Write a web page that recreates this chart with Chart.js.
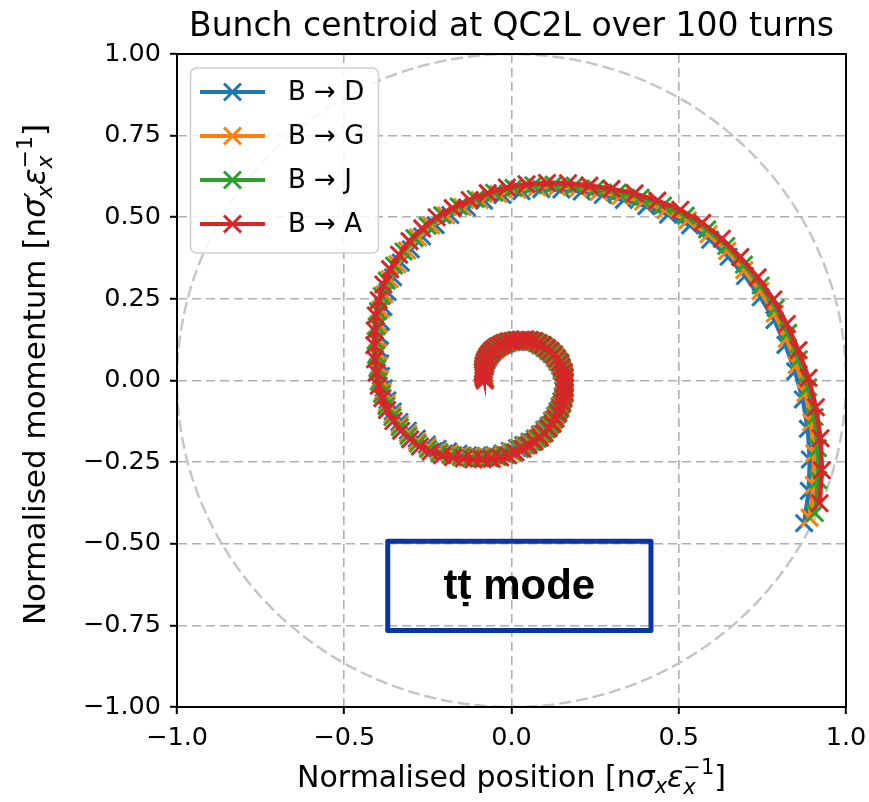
<!DOCTYPE html>
<html>
<head>
<meta charset="utf-8">
<script src="https://cdn.jsdelivr.net/npm/chart.js@4.4.1/dist/chart.umd.min.js"></script>
<style>
  html, body { margin: 0; padding: 0; background: #fff; }
  #wrap { width: 869px; height: 802px; }
</style>
</head>
<body>
<div id="wrap"><canvas id="centroidChart" width="869" height="802"></canvas></div>
<script>
// centroid of the bunch, one point per turn
var seriesLabels = ['B \u2192 D', 'B \u2192 G', 'B \u2192 J', 'B \u2192 A'];
var seriesColors = ['#1f77b4', '#ff7f0e', '#2ca02c', '#d62728'];
var xTicks = [-1, -0.5, 0, 0.5, 1];
var yTicks = [-1, -0.75, -0.5, -0.25, 0, 0.25, 0.5, 0.75, 1];

var xBD = [0.875,0.889,0.892,0.886,0.871,0.848,0.819,0.786,0.745,0.698,
  0.649,0.594,0.534,0.468,0.403,0.336,0.273,0.210,0.149,0.089,
  0.030,-0.027,-0.082,-0.133,-0.183,-0.227,-0.267,-0.301,-0.331,-0.354,
  -0.371,-0.383,-0.390,-0.394,-0.395,-0.393,-0.390,-0.382,-0.371,-0.355,
  -0.335,-0.310,-0.283,-0.253,-0.221,-0.189,-0.158,-0.130,-0.102,-0.076,
  -0.051,-0.027,-0.005,0.017,0.035,0.054,0.070,0.085,0.098,0.111,
  0.121,0.130,0.137,0.144,0.149,0.153,0.155,0.156,0.157,0.155,
  0.150,0.146,0.138,0.130,0.120,0.110,0.099,0.087,0.075,0.062,
  0.049,0.036,0.023,0.011,-0.001,-0.013,-0.023,-0.034,-0.043,-0.051,
  -0.059,-0.065,-0.071,-0.075,-0.079,-0.081,-0.082,-0.082,-0.081,-0.078];
var yBD = [-0.437,-0.338,-0.242,-0.148,-0.058,0.028,0.109,0.185,0.255,0.320,
  0.379,0.431,0.475,0.508,0.534,0.553,0.568,0.579,0.585,0.586,
  0.580,0.568,0.551,0.530,0.507,0.476,0.441,0.402,0.361,0.316,
  0.271,0.225,0.180,0.136,0.094,0.053,0.014,-0.024,-0.061,-0.095,
  -0.127,-0.154,-0.178,-0.196,-0.209,-0.217,-0.224,-0.229,-0.230,-0.231,
  -0.229,-0.224,-0.216,-0.207,-0.198,-0.188,-0.178,-0.165,-0.151,-0.138,
  -0.123,-0.108,-0.094,-0.079,-0.063,-0.048,-0.032,-0.017,-0.001,0.015,
  0.029,0.044,0.057,0.069,0.081,0.090,0.100,0.107,0.114,0.118,
  0.121,0.121,0.121,0.118,0.117,0.114,0.109,0.105,0.099,0.093,
  0.085,0.077,0.068,0.060,0.050,0.041,0.032,0.023,0.014,0.006];

var xBG = [0.891,0.904,0.905,0.896,0.879,0.853,0.823,0.787,0.744,0.696,
  0.645,0.589,0.527,0.460,0.394,0.326,0.261,0.199,0.136,0.076,
  0.017,-0.040,-0.095,-0.147,-0.196,-0.240,-0.279,-0.312,-0.341,-0.364,
  -0.380,-0.391,-0.397,-0.400,-0.400,-0.397,-0.393,-0.385,-0.373,-0.356,
  -0.334,-0.309,-0.282,-0.251,-0.218,-0.185,-0.154,-0.125,-0.098,-0.071,
  -0.046,-0.022,0.000,0.022,0.040,0.059,0.075,0.090,0.102,0.115,
  0.125,0.133,0.140,0.147,0.152,0.155,0.157,0.158,0.158,0.156,
  0.150,0.146,0.138,0.130,0.119,0.109,0.098,0.085,0.073,0.060,
  0.046,0.033,0.020,0.008,-0.004,-0.016,-0.026,-0.036,-0.045,-0.054,
  -0.061,-0.067,-0.073,-0.077,-0.081,-0.082,-0.084,-0.083,-0.082,-0.079];
var yBG = [-0.420,-0.320,-0.223,-0.128,-0.038,0.047,0.128,0.205,0.274,0.338,
  0.397,0.448,0.491,0.522,0.548,0.565,0.578,0.589,0.593,0.592,
  0.585,0.571,0.553,0.531,0.506,0.475,0.438,0.398,0.356,0.311,
  0.264,0.218,0.173,0.128,0.086,0.045,0.005,-0.033,-0.070,-0.104,
  -0.135,-0.162,-0.186,-0.203,-0.216,-0.223,-0.229,-0.233,-0.234,-0.234,
  -0.232,-0.226,-0.218,-0.208,-0.199,-0.189,-0.178,-0.164,-0.150,-0.137,
  -0.122,-0.106,-0.092,-0.076,-0.061,-0.045,-0.029,-0.013,0.003,0.019,
  0.033,0.048,0.060,0.073,0.084,0.093,0.103,0.110,0.116,0.120,
  0.123,0.122,0.122,0.120,0.118,0.115,0.110,0.105,0.099,0.092,
  0.085,0.076,0.067,0.059,0.049,0.039,0.030,0.021,0.012,0.004];

var xBJ = [0.907,0.917,0.916,0.906,0.887,0.859,0.827,0.790,0.745,0.695,
  0.642,0.585,0.521,0.453,0.386,0.318,0.252,0.189,0.126,0.065,
  0.006,-0.052,-0.107,-0.158,-0.207,-0.251,-0.290,-0.323,-0.351,-0.373,
  -0.388,-0.399,-0.403,-0.406,-0.405,-0.401,-0.397,-0.387,-0.374,-0.356,
  -0.334,-0.308,-0.280,-0.249,-0.215,-0.182,-0.151,-0.122,-0.094,-0.067,
  -0.042,-0.018,0.005,0.026,0.044,0.063,0.079,0.094,0.106,0.118,
  0.128,0.136,0.143,0.149,0.154,0.158,0.159,0.159,0.159,0.157,
  0.151,0.147,0.138,0.129,0.119,0.108,0.096,0.084,0.071,0.058,
  0.044,0.031,0.018,0.006,-0.006,-0.018,-0.028,-0.039,-0.048,-0.056,
  -0.063,-0.070,-0.075,-0.079,-0.082,-0.084,-0.085,-0.084,-0.083,-0.080];
var yBJ = [-0.406,-0.305,-0.207,-0.112,-0.021,0.065,0.146,0.222,0.291,0.355,
  0.412,0.463,0.505,0.536,0.560,0.576,0.588,0.597,0.600,0.598,
  0.590,0.575,0.556,0.533,0.506,0.474,0.436,0.395,0.352,0.306,
  0.259,0.212,0.166,0.121,0.078,0.037,-0.003,-0.041,-0.078,-0.112,
  -0.143,-0.170,-0.193,-0.210,-0.222,-0.229,-0.234,-0.238,-0.238,-0.238,
  -0.234,-0.228,-0.220,-0.210,-0.199,-0.189,-0.178,-0.164,-0.149,-0.136,
  -0.120,-0.104,-0.090,-0.074,-0.058,-0.042,-0.026,-0.010,0.006,0.022,
  0.036,0.051,0.063,0.076,0.087,0.096,0.106,0.112,0.119,0.122,
  0.124,0.124,0.123,0.121,0.119,0.115,0.110,0.105,0.099,0.092,
  0.084,0.075,0.066,0.058,0.048,0.038,0.029,0.020,0.011,0.003];

var xBA = [0.921,0.928,0.924,0.910,0.888,0.858,0.823,0.783,0.736,0.684,
  0.629,0.570,0.505,0.436,0.368,0.299,0.233,0.169,0.106,0.045,
  -0.014,-0.071,-0.125,-0.176,-0.224,-0.267,-0.305,-0.336,-0.363,-0.383,
  -0.397,-0.406,-0.409,-0.410,-0.408,-0.403,-0.397,-0.386,-0.372,-0.353,
  -0.330,-0.303,-0.274,-0.242,-0.208,-0.175,-0.143,-0.114,-0.086,-0.059,
  -0.034,-0.010,0.012,0.033,0.051,0.069,0.085,0.099,0.111,0.123,
  0.132,0.140,0.146,0.152,0.156,0.159,0.160,0.160,0.159,0.156,
  0.150,0.145,0.136,0.127,0.116,0.105,0.093,0.080,0.067,0.054,
  0.040,0.027,0.014,0.002,-0.010,-0.022,-0.032,-0.042,-0.051,-0.059,
  -0.066,-0.072,-0.077,-0.081,-0.084,-0.085,-0.086,-0.085,-0.083,-0.080];
var yBA = [-0.376,-0.275,-0.177,-0.082,0.008,0.093,0.173,0.248,0.316,0.378,
  0.434,0.483,0.523,0.551,0.573,0.587,0.597,0.604,0.605,0.601,
  0.591,0.574,0.553,0.528,0.500,0.466,0.427,0.385,0.341,0.294,
  0.246,0.199,0.153,0.108,0.065,0.024,-0.016,-0.054,-0.090,-0.124,
  -0.154,-0.180,-0.202,-0.218,-0.229,-0.235,-0.239,-0.242,-0.241,-0.240,
  -0.236,-0.229,-0.220,-0.209,-0.198,-0.187,-0.175,-0.161,-0.146,-0.132,
  -0.116,-0.100,-0.085,-0.069,-0.053,-0.037,-0.021,-0.005,0.011,0.027,
  0.041,0.056,0.068,0.080,0.091,0.100,0.109,0.115,0.121,0.124,
  0.126,0.125,0.124,0.121,0.119,0.115,0.109,0.104,0.097,0.090,
  0.082,0.073,0.064,0.055,0.045,0.035,0.026,0.017,0.008,0.000];

var FONT = "'DejaVu Sans', 'Liberation Sans', sans-serif";

function fmt(v, d) {
    return (v < 0 ? '\u2212' : '') + Math.abs(v).toFixed(d);
}

function toPoints(xs, ys) {
    return xs.map(function (x, i) { return { x: x, y: ys[i] }; });
}

function makeSet(i, xs, ys, order) {
    return {
        label: seriesLabels[i],
        data: toPoints(xs, ys),
        showLine: true,
        borderColor: seriesColors[i],
        backgroundColor: seriesColors[i],
        borderWidth: 4.5,
        pointStyle: 'crossRot',
        pointRadius: 12,
        pointBorderWidth: 3,
        pointBorderColor: seriesColors[i],
        tension: 0,
        order: order
    };
}

// small helper for the mathtext-ish axis labels
function richWidth(ctx, parts) {
    var w = 0, kept = 0;
    parts.forEach(function (p) {
        ctx.font = (p.it ? 'italic ' : '') + p.sz + 'px ' + FONT;
        var pw = ctx.measureText(p.t).width;
        if (p.keep) { kept = pw; return; }
        w += Math.max(pw, kept);
        kept = 0;
    });
    return w;
}

function drawRich(ctx, parts, x, y) {
    var cx = x, kept = 0;
    ctx.textBaseline = 'alphabetic';
    ctx.textAlign = 'left';
    parts.forEach(function (p) {
        ctx.font = (p.it ? 'italic ' : '') + p.sz + 'px ' + FONT;
        ctx.fillText(p.t, cx, y + (p.dy || 0));
        var pw = ctx.measureText(p.t).width;
        if (p.keep) { kept = pw; return; }
        cx += Math.max(pw, kept);
        kept = 0;
    });
}

var xLabelParts = [
    { t: 'Normalised position [n', sz: 30 },
    { t: '\u03c3', sz: 30, it: 1 },
    { t: 'x', sz: 21, it: 1, dy: 6 },
    { t: '\u03b5', sz: 30, it: 1 },
    { t: 'x', sz: 21, it: 1, dy: 7, keep: 1 },
    { t: '\u22121', sz: 21, dy: -13 },
    { t: ']', sz: 30 }
];
var yLabelParts = [
    { t: 'Normalised momentum [n', sz: 31 },
    { t: '\u03c3', sz: 31, it: 1 },
    { t: 'x', sz: 22, it: 1, dy: 7, keep: 1 },
    { t: '\u2032', sz: 28, dy: 0 },
    { t: '\u03b5', sz: 31, it: 1 },
    { t: 'x', sz: 22, it: 1, dy: 7, keep: 1 },
    { t: '\u22121', sz: 22, dy: -13 },
    { t: ']', sz: 31 }
];

var decor = {
    id: 'decor',
    beforeDraw: function (chart) {
        var ctx = chart.ctx;
        ctx.save();
        ctx.fillStyle = '#fff';
        ctx.fillRect(0, 0, chart.width, chart.height);
        ctx.restore();
    },
    beforeDatasetsDraw: function (chart) {
        // dashed unit circle
        var ctx = chart.ctx, a = chart.chartArea;
        var sx = chart.scales.x, sy = chart.scales.y;
        var cx = sx.getPixelForValue(0), cy = sy.getPixelForValue(0);
        var rx = sx.getPixelForValue(1) - cx, ry = cy - sy.getPixelForValue(1);
        ctx.save();
        ctx.beginPath();
        ctx.rect(a.left, a.top, a.right - a.left, a.bottom - a.top);
        ctx.clip();
        ctx.beginPath();
        ctx.ellipse(cx, cy, rx, ry, 0, 0, Math.PI * 2);
        ctx.setLineDash([12, 5]);
        ctx.strokeStyle = '#c4c4c4';
        ctx.lineWidth = 2.4;
        ctx.stroke();
        ctx.restore();
    },
    afterDraw: function (chart) {
        var ctx = chart.ctx, a = chart.chartArea;
        var sx = chart.scales.x, sy = chart.scales.y;
        ctx.save();

        // frame
        ctx.strokeStyle = '#000';
        ctx.lineWidth = 2;
        ctx.strokeRect(a.left, a.top, a.right - a.left, a.bottom - a.top);

        // title
        ctx.fillStyle = '#000';
        ctx.font = '33px ' + FONT;
        ctx.textAlign = 'center';
        ctx.textBaseline = 'alphabetic';
        ctx.fillText('Bunch centroid at QC2L over 100 turns', (a.left + a.right) / 2, 36);

        // axis labels
        var mid = (a.left + a.right) / 2;
        var w = richWidth(ctx, xLabelParts);
        drawRich(ctx, xLabelParts, mid - w / 2, 787);
        ctx.save();
        ctx.translate(45, (a.top + a.bottom) / 2 - 6);
        ctx.rotate(-Math.PI / 2);
        w = richWidth(ctx, yLabelParts);
        drawRich(ctx, yLabelParts, -w / 2, 0);
        ctx.restore();

        // legend
        var lx = 190.5, ly = 68, lw = 188, lh = 185;
        ctx.beginPath();
        ctx.roundRect(lx, ly, lw, lh, 6);
        ctx.fillStyle = 'rgba(255,255,255,0.85)';
        ctx.fill();
        ctx.strokeStyle = '#d0d0d0';
        ctx.lineWidth = 1.6;
        ctx.stroke();
        seriesLabels.forEach(function (lab, i) {
            var ry = 92 + i * 44;
            ctx.strokeStyle = seriesColors[i];
            ctx.lineWidth = 4;
            ctx.beginPath();
            ctx.moveTo(200, ry);
            ctx.lineTo(265, ry);
            ctx.stroke();
            ctx.lineWidth = 3;
            ctx.beginPath();
            ctx.moveTo(232.5 - 8.5, ry - 8.5);
            ctx.lineTo(232.5 + 8.5, ry + 8.5);
            ctx.moveTo(232.5 - 8.5, ry + 8.5);
            ctx.lineTo(232.5 + 8.5, ry - 8.5);
            ctx.stroke();
            ctx.fillStyle = '#000';
            ctx.font = '26px ' + FONT;
            ctx.textAlign = 'left';
            ctx.textBaseline = 'middle';
            ctx.fillText(lab, 288, ry + 1);
        });

        // tt mode box
        var bx0 = sx.getPixelForValue(-0.37), bx1 = sx.getPixelForValue(0.417);
        var by0 = sy.getPixelForValue(-0.492), by1 = sy.getPixelForValue(-0.766);
        ctx.strokeStyle = '#0b35a3';
        ctx.lineWidth = 5;
        ctx.lineJoin = 'round';
        ctx.strokeRect(bx0, by0, bx1 - bx0, by1 - by0);
        ctx.fillStyle = '#000';
        ctx.font = "bold 42px 'Liberation Sans', Arial, 'DejaVu Sans', sans-serif";
        ctx.textAlign = 'center';
        ctx.textBaseline = 'alphabetic';
        ctx.fillText('t\u1e6d mode', (bx0 + bx1) / 2, by0 + 58);

        ctx.restore();
    }
};

var datasets = [
    makeSet(0, xBD, yBD, 3),
    makeSet(1, xBG, yBG, 2),
    makeSet(2, xBJ, yBJ, 1),
    makeSet(3, xBA, yBA, 0)
];

function axisOptions(ticksArr, digits, fit) {
    return {
        type: 'linear',
        min: -1,
        max: 1,
        afterBuildTicks: function (scale) {
            scale.ticks = ticksArr.map(function (v) { return { value: v }; });
        },
        afterFit: fit,
        ticks: {
            autoSkip: false,
            maxRotation: 0,
            color: '#000',
            padding: 9,
            font: { family: FONT, size: 25.5 },
            callback: function (v) { return fmt(v, digits); }
        },
        grid: {
            color: '#b0b0b0',
            lineWidth: 1.6,
            tickColor: '#000',
            tickLength: 7,
            tickWidth: 2
        },
        border: { dash: [9, 5], color: '#000', width: 2 }
    };
}

new Chart(document.getElementById('centroidChart').getContext('2d'), {
    type: 'scatter',
    data: { datasets: datasets },
    options: {
        responsive: false,
        animation: false,
        events: [],
        devicePixelRatio: 1,
        layout: { padding: { top: 54, right: 23, left: 0, bottom: 0 } },
        plugins: { legend: { display: false }, title: { display: false }, tooltip: { enabled: false } },
        scales: {
            x: axisOptions(xTicks, 1, function (s) {
                s.height = 95;
                s.paddingLeft = 0;
                s.paddingRight = 0;
            }),
            y: axisOptions(yTicks, 2, function (s) {
                s.width = 177;
                s.paddingTop = 0;
                s.paddingBottom = 0;
            })
        }
    },
    plugins: [decor]
});
</script>
</body>
</html>
